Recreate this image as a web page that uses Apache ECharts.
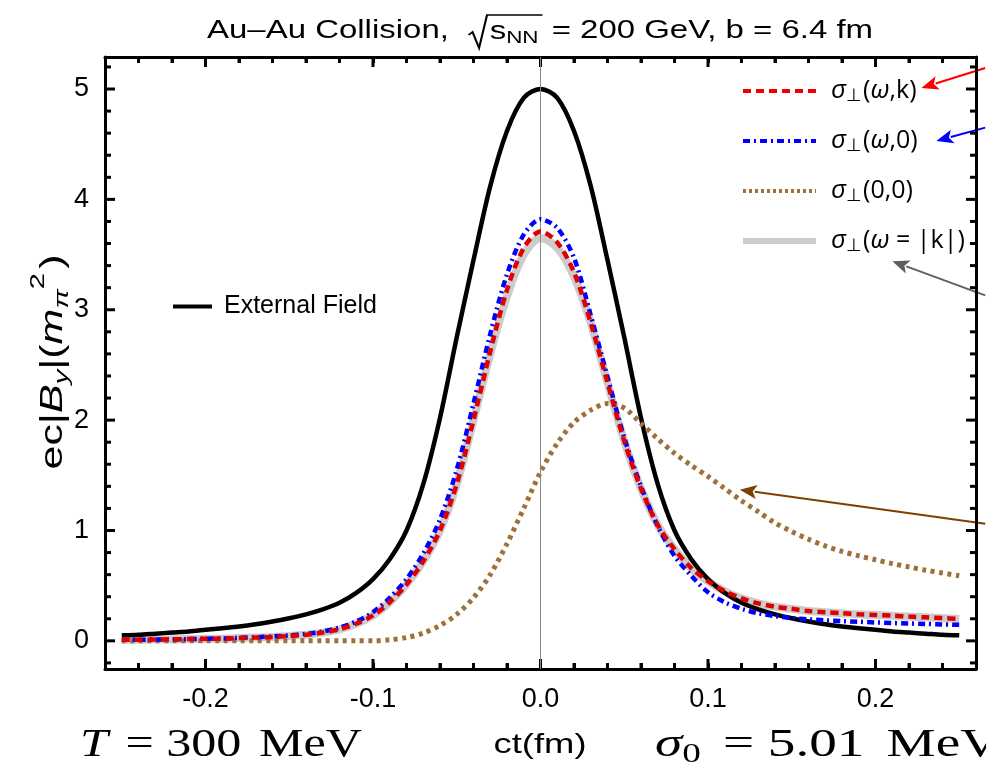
<!DOCTYPE html>
<html>
<head>
<meta charset="utf-8">
<script src="https://cdn.jsdelivr.net/npm/echarts@6/dist/echarts.min.js"></script>
<style>
  html, body { margin: 0; padding: 0; background: #fff; }
  #chart { width: 986px; height: 769px; }
</style>
</head>
<body>
<div id="chart"></div>
<script>
// ct grid (fm)
const ct = [-0.25, -0.24, -0.23, -0.22, -0.21, -0.20, -0.19, -0.18, -0.17, -0.16,
            -0.15, -0.14, -0.13, -0.12, -0.11, -0.10, -0.09, -0.08, -0.07, -0.06,
            -0.05, -0.04, -0.03, -0.02, -0.01, 0.00, 0.01, 0.02, 0.03, 0.04,
            0.05, 0.06, 0.07, 0.08, 0.09, 0.10, 0.11, 0.12, 0.13, 0.14,
            0.15, 0.16, 0.17, 0.18, 0.19, 0.20, 0.21, 0.22, 0.23, 0.24, 0.25];

// ec|B_y| in units of m_pi^2
const externalField = [0.05, 0.055, 0.065, 0.075, 0.085, 0.10, 0.115, 0.13, 0.15, 0.175,
                       0.205, 0.24, 0.285, 0.345, 0.435, 0.56, 0.74, 1.00, 1.42, 2.02,
                       2.75, 3.45, 4.12, 4.62, 4.92, 5.00, 4.92, 4.62, 4.12, 3.45,
                       2.75, 2.02, 1.42, 1.00, 0.74, 0.56, 0.435, 0.345, 0.285, 0.24,
                       0.205, 0.175, 0.15, 0.13, 0.115, 0.10, 0.085, 0.075, 0.065, 0.055, 0.05];

const sigmaOmegaK = [0.01, 0.01, 0.012, 0.014, 0.016, 0.018, 0.02, 0.025, 0.03, 0.035,
                     0.045, 0.055, 0.075, 0.105, 0.155, 0.23, 0.35, 0.51, 0.72, 1.00,
                     1.42, 2.00, 2.62, 3.18, 3.56, 3.71, 3.61, 3.34, 2.88, 2.34,
                     1.81, 1.38, 1.05, 0.83, 0.66, 0.54, 0.45, 0.385, 0.34, 0.31,
                     0.29, 0.27, 0.26, 0.25, 0.24, 0.235, 0.228, 0.22, 0.213, 0.206, 0.20];

const sigmaOmega0 = [0.01, 0.01, 0.012, 0.014, 0.016, 0.019, 0.022, 0.027, 0.033, 0.04,
                     0.05, 0.063, 0.085, 0.12, 0.175, 0.26, 0.39, 0.56, 0.79, 1.10,
                     1.55, 2.15, 2.78, 3.32, 3.68, 3.82, 3.74, 3.47, 2.95, 2.39,
                     1.84, 1.40, 1.04, 0.77, 0.59, 0.44, 0.35, 0.29, 0.25, 0.225,
                     0.207, 0.195, 0.186, 0.179, 0.173, 0.167, 0.162, 0.157, 0.153, 0.149, 0.145];

const sigma00 = [0, 0, 0, 0, 0, 0, 0, 0, 0, 0,
                 0, 0, 0, 0, 0, 0, 0.01, 0.03, 0.07, 0.14,
                 0.24, 0.39, 0.60, 0.88, 1.20, 1.53, 1.79, 1.98, 2.09, 2.15,
                 2.11, 1.97, 1.83, 1.70, 1.59, 1.49, 1.38, 1.27, 1.17, 1.07,
                 0.99, 0.92, 0.86, 0.81, 0.77, 0.735, 0.70, 0.67, 0.64, 0.615, 0.59];

const sigmaLight = [0.01, 0.01, 0.012, 0.014, 0.016, 0.018, 0.02, 0.025, 0.03, 0.035,
                    0.045, 0.055, 0.075, 0.105, 0.155, 0.23, 0.35, 0.51, 0.72, 1.00,
                    1.42, 2.00, 2.60, 3.12, 3.50, 3.65, 3.56, 3.30, 2.88, 2.34,
                    1.81, 1.38, 1.05, 0.83, 0.66, 0.54, 0.45, 0.385, 0.34, 0.31,
                    0.29, 0.27, 0.26, 0.25, 0.24, 0.235, 0.228, 0.22, 0.213, 0.206, 0.20];

// axis ticks
const xMajorTicks = [-0.2, -0.1, 0.0, 0.1, 0.2];
const xTickLabels = ['-0.2', '-0.1', '0.0', '0.1', '0.2'];
const xMinorTicks = [-0.24, -0.22, -0.18, -0.16, -0.14, -0.12, -0.08, -0.06, -0.04, -0.02,
                     0.02, 0.04, 0.06, 0.08, 0.12, 0.14, 0.16, 0.18, 0.22, 0.24];
const yMajorTicks = [0, 1, 2, 3, 4, 5];
const yTickLabels = ['0', '1', '2', '3', '4', '5'];
const yMinorTicks = [-0.2, 0.2, 0.4, 0.6, 0.8, 1.2, 1.4, 1.6, 1.8, 2.2, 2.4, 2.6, 2.8,
                     3.2, 3.4, 3.6, 3.8, 4.2, 4.4, 4.6, 4.8, 5.2];

const seriesNames = ['σ⊥(ω,k)', 'σ⊥(ω,0)', 'σ⊥(0,0)', 'σ⊥(ω = |k|)', 'External Field'];
const legendRich = {
  'σ⊥(ω,k)': '{i|σ}{s|⊥}{n|(}{i|ω}{n|,k)}',
  'σ⊥(ω,0)': '{i|σ}{s|⊥}{n|(}{i|ω}{n|,0)}',
  'σ⊥(0,0)': '{i|σ}{s|⊥}{n|(0,0)}',
  'σ⊥(ω = |k|)': '{i|σ}{s|⊥}{n|(}{i|ω}{n| = |k|)}'
};

// arrows pointing at the legend entries: tail and head in (ct, value)
const arrows = [
  { color: '#ff0000', from: [0.2655, 5.19], to: [0.2274, 5.01] },
  { color: '#0000ff', from: [0.2655, 4.65], to: [0.2363, 4.53] },
  { color: '#606060', from: [0.2655, 3.13], to: [0.2100, 3.44] },
  { color: '#7f3f00', from: [0.2655, 1.06], to: [0.1190, 1.37] }
];

const SANS = '"Liberation Sans", Arial, sans-serif';
const MATH = '"Open Sans", "Noto Sans", sans-serif';
const SERIF = '"Liberation Serif", "DejaVu Serif", serif';
const X_MIN = -0.26, X_MAX = 0.26, Y_MIN = -0.255, Y_MAX = 5.29;

const chart = echarts.init(document.getElementById('chart'));

const pairs = vals => ct.map((t, i) => [t, vals[i]]);

function frameAxis(position, isX, withLabels) {
  const ticks = isX ? xMajorTicks : yMajorTicks;
  const names = isX ? xTickLabels : yTickLabels;
  const axis = {
    type: 'value', position: position,
    min: isX ? X_MIN : Y_MIN, max: isX ? X_MAX : Y_MAX,
    axisLine: { show: true, onZero: false, lineStyle: { color: '#000', width: 3 } },
    axisTick: { show: false },
    axisLabel: withLabels ? {
      show: true, customValues: ticks, margin: isX ? 17 : 16,
      formatter: v => names[ticks.findIndex(t => Math.abs(t - v) < 1e-9)],
      fontFamily: SANS, fontSize: 27, color: '#000'
    } : { show: false },
    splitLine: { show: false }
  };
  if (isX) {
    // -0.26 is a whole multiple of 0.02, so the axis' own short ticks land on every 0.02
    axis.interval = 0.02;
    axis.axisTick = { show: true, inside: true, length: 6, lineStyle: { color: '#000', width: 3 } };
  }
  return axis;
}

const baseSeries = { type: 'line', xAxisIndex: 0, yAxisIndex: 0, showSymbol: false, symbol: 'none',
                     smooth: 0.3, silent: true, animation: false };

const option = {
  animation: false,
  grid: { left: 105, right: 10, top: 57, bottom: 100, containLabel: false },
  xAxis: [frameAxis('bottom', true, true), frameAxis('top', true, false)],
  yAxis: [frameAxis('left', false, true), frameAxis('right', false, false)],
  legend: [
    {
      data: [
        { name: seriesNames[0], lineStyle: { color: '#ee0000', width: 4, type: [8, 5] } },
        { name: seriesNames[1], lineStyle: { color: '#0000ff', width: 4, type: [7, 4, 2, 4] } },
        { name: seriesNames[2], lineStyle: { color: '#a0703a', width: 4, type: [3, 3] } },
        { name: seriesNames[3], lineStyle: { color: '#cccccc', width: 6, type: 'solid' } }
      ],
      orient: 'vertical', left: 735, top: 73, itemWidth: 73, itemHeight: 28, itemGap: 23,
      selectedMode: false, itemStyle: { color: 'rgba(0,0,0,0)', borderWidth: 0 },
      formatter: name => legendRich[name],
      textStyle: {
        padding: [0, 0, 0, 10],
        rich: {
          i: { fontFamily: MATH, fontStyle: 'italic', fontSize: 26, color: '#000', lineHeight: 28, verticalAlign: 'middle' },
          n: { fontFamily: MATH, fontSize: 25, color: '#000', lineHeight: 28, verticalAlign: 'middle' },
          s: { fontFamily: MATH, fontSize: 18, color: '#000', lineHeight: 28, verticalAlign: 'bottom', padding: [9, 1, 0, 0] }
        }
      }
    },
    {
      data: [{ name: seriesNames[4], lineStyle: { color: '#000', width: 4, type: 'solid' } }],
      left: 166, top: 289, itemWidth: 39, itemHeight: 24,
      selectedMode: false, itemStyle: { color: 'rgba(0,0,0,0)', borderWidth: 0 },
      textStyle: { fontFamily: SANS, fontSize: 25, color: '#000', padding: [0, 0, 0, 7] }
    }
  ],
  series: [
    Object.assign({}, baseSeries, { name: seriesNames[3], data: pairs(sigmaLight), z: 2,
      lineStyle: { color: '#cccccc', width: 8 } }),
    Object.assign({}, baseSeries, { name: seriesNames[4], data: pairs(externalField), z: 3,
      lineStyle: { color: '#000000', width: 4.5 },
      markLine: { silent: true, symbol: 'none', label: { show: false }, animation: false,
                  lineStyle: { color: '#8a8a8a', width: 1, type: 'solid' },
                  data: [{ xAxis: 0 }] } }),
    Object.assign({}, baseSeries, { name: seriesNames[2], data: pairs(sigma00), z: 4,
      lineStyle: { color: '#a0703a', width: 5, type: [4, 4.5], cap: 'butt' } }),
    Object.assign({}, baseSeries, { name: seriesNames[1], data: pairs(sigmaOmega0), z: 5,
      lineStyle: { color: '#0000ff', width: 4.5, type: [7, 4, 2, 4], cap: 'butt' } }),
    Object.assign({}, baseSeries, { name: seriesNames[0], data: pairs(sigmaOmegaK), z: 6,
      lineStyle: { color: '#e00000', width: 4.5, type: [8, 5], cap: 'butt' } })
  ]
};

chart.setOption(option);

// ---- frame ticks, text runs and annotations ----
const graphics = [];
const toPx = (x, y) => chart.convertToPixel({ xAxisIndex: 0, yAxisIndex: 0 }, [x, y]);

// inward tick marks on all four sides of the frame, as small filled bars
(function () {
  const corner0 = toPx(X_MIN, Y_MIN), corner1 = toPx(X_MAX, Y_MAX);
  const xl = Math.min(corner0[0], corner1[0]), xr = Math.max(corner0[0], corner1[0]);
  const yt = Math.min(corner0[1], corner1[1]), yb = Math.max(corner0[1], corner1[1]);
  const w = 3;
  const bar = (x, y, bw, bh) => graphics.push({ type: 'rect',
    shape: { x: x, y: y, width: bw, height: bh }, style: { fill: '#000' } });
  const xTick = (v, len) => {
    const px = toPx(v, 0)[0];
    bar(px - w / 2, yb - len, w, len);
    bar(px - w / 2, yt, w, len);
  };
  const yTick = (v, len) => {
    const py = toPx(0, v)[1];
    bar(xl, py - w / 2, len, w);
    bar(xr - len, py - w / 2, len, w);
  };
  xMajorTicks.forEach(v => xTick(v, 10));
  xMinorTicks.forEach(v => xTick(v, 6));
  yMajorTicks.forEach(v => yTick(v, 10));
  yMinorTicks.forEach(v => yTick(v, 6));
})();

const measureCtx = document.createElement('canvas').getContext('2d');
function textWidth(t, font) { measureCtx.font = font; return measureCtx.measureText(t).width; }

// lays out a run of text pieces left to right; anchor 0 = left, 0.5 = centre
function textRun(pieces, o) {
  let x = 0;
  const kids = [];
  pieces.forEach(p => {
    kids.push({ type: 'text', x: x, y: p.dy || 0,
      style: { text: p.t, font: p.font, fill: '#000', align: 'left', verticalAlign: 'middle' } });
    x += textWidth(p.t, p.font) + (p.gap || 0);
  });
  const shift = x * (o.anchor === undefined ? 0.5 : o.anchor);
  kids.forEach(k => { k.x -= shift; });
  const sx = o.width ? o.width / x : (o.sx || 1);
  return { type: 'group', x: o.x, y: o.y, rotation: o.rotation || 0, scaleX: sx, scaleY: o.sy || 1,
           children: kids };
}

// title with radical sign
(function () {
  const f = '25px ' + SANS;
  const fs = '17px ' + SANS;
  const pre = 'Au–Au Collision,  ';
  const post = ' = 200 GeV, b = 6.4 fm';
  const wPre = textWidth(pre, f), wRad = 17, wS = textWidth('s', f), wNN = textWidth('NN', fs);
  const wPost = textWidth(post, f);
  const total = wPre + wRad + wS + wNN + 3 + wPost;
  const x0 = -total / 2;
  const kids = [];
  const addText = (t, font, x, y) => kids.push({ type: 'text', x: x, y: y,
    style: { text: t, font: font, fill: '#000', align: 'left', verticalAlign: 'middle' } });
  addText(pre, f, x0, 0);
  const rx = x0 + wPre;
  kids.push({ type: 'polyline', shape: { points: [[rx + 1, 4], [rx + 4, 1], [rx + 9, 17], [rx + 15, -16],
             [rx + wRad + wS + wNN + 3, -16]] },
             style: { stroke: '#000', lineWidth: 1.6, fill: null } });
  addText('s', f, rx + wRad, 1);
  addText('NN', fs, rx + wRad + wS, 7);
  addText(post, f, rx + wRad + wS + wNN + 3, 0);
  graphics.push({ type: 'group', x: 540, y: 31, scaleX: 666 / total, children: kids });
})();

// y axis name
(function () {
  const f = '31px ' + SANS, fi = 'italic 31px ' + SANS, fsub = 'italic 21px ' + SANS, fsup = '21px ' + SANS;
  graphics.push(textRun([
    { t: 'ec|', font: f },
    { t: 'B', font: fi },
    { t: 'y', font: fsub, dy: 9 },
    { t: '|(', font: f },
    { t: 'm', font: fi },
    { t: 'π', font: fsub, dy: 9 },
    { t: '2', font: fsup, dy: -15, gap: 3 },
    { t: ')', font: f }
  ], { x: 53, y: 362, rotation: Math.PI / 2, width: 215 }));
})();

// x axis name
graphics.push(textRun([{ t: 'ct(fm)', font: '28px ' + SANS }], { x: 540, y: 745, width: 93 }));

// temperature and conductivity annotations
(function () {
  const f = '40px ' + SERIF, fi = 'italic 40px ' + SERIF, fsub = '27px ' + SERIF;
  graphics.push(textRun([
    { t: 'T', font: fi, gap: 4 },
    { t: ' = 300 ', font: f, gap: 4 },
    { t: 'MeV', font: f }
  ], { x: 80, y: 745, anchor: 0, width: 282 }));
  graphics.push(textRun([
    { t: 'σ', font: fi },
    { t: '0', font: fsub, dy: 10, gap: 6 },
    { t: ' = 5.01 ', font: f, gap: 6 },
    { t: 'MeV', font: f }
  ], { x: 655, y: 745, anchor: 0, width: 345 }));
})();

// arrows
arrows.forEach(a => {
  const p0 = toPx(a.from[0], a.from[1]);
  const p1 = toPx(a.to[0], a.to[1]);
  const dx = p1[0] - p0[0], dy = p1[1] - p0[1];
  const L = Math.sqrt(dx * dx + dy * dy), ux = dx / L, uy = dy / L;
  const headLen = 17, headW = 7;
  const bx = p1[0] - ux * headLen, by = p1[1] - uy * headLen;
  graphics.push({ type: 'line',
    shape: { x1: p0[0], y1: p0[1], x2: bx + ux * 2, y2: by + uy * 2 },
    style: { stroke: a.color, lineWidth: 2 } });
  graphics.push({ type: 'polygon',
    shape: { points: [[p1[0], p1[1]], [bx - uy * headW, by + ux * headW], [bx + ux * 4, by + uy * 4], [bx + uy * headW, by - ux * headW]] },
    style: { fill: a.color } });
});

chart.setOption({ graphic: graphics });
</script>
</body>
</html>
